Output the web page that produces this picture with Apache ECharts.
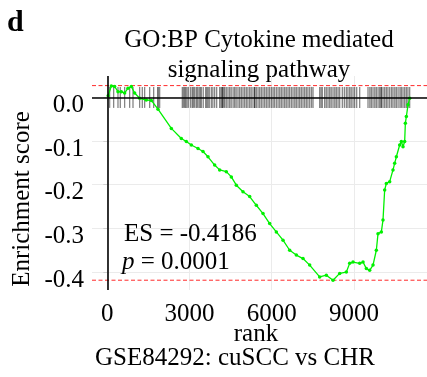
<!DOCTYPE html>
<html>
<head>
<meta charset="utf-8">
<script src="https://cdn.jsdelivr.net/npm/echarts@6/dist/echarts.min.js"></script>
<style>
  html, body { margin: 0; padding: 0; background: #fff; }
  #main { width: 427px; height: 377px; }
</style>
</head>
<body>
<div id="main"></div>
<script>
// running enrichment score
var rankPts = [30, 145, 266, 388, 510, 631, 753, 875, 996, 1179, 1422, 1605, 1848, 2335, 2700, 2882,
  3065, 3308, 3491, 3673, 3916, 4099, 4342, 4525, 4707, 4951, 5194, 5437, 5681, 5924, 6167, 6411,
  6654, 6897, 7141, 7384, 7749, 7992, 8236, 8479, 8722, 8844, 8966, 9209, 9331, 9452, 9574, 9696,
  9817, 9878, 10000, 10060, 10121, 10182, 10304, 10425, 10486, 10547, 10669, 10730, 10790, 10851,
  10876, 10912, 10973, 11034];
var esPts = [0.004, 0.026, 0.025, 0.013, 0.013, 0.010, 0.021, 0.025, 0.010, -0.002, -0.006, -0.007,
  -0.027, -0.071, -0.094, -0.101, -0.109, -0.117, -0.124, -0.136, -0.155, -0.166, -0.170, -0.182,
  -0.201, -0.216, -0.227, -0.247, -0.266, -0.289, -0.308, -0.327, -0.350, -0.361, -0.369, -0.384,
  -0.411, -0.407, -0.4186, -0.403, -0.400, -0.380, -0.377, -0.380, -0.377, -0.392, -0.396, -0.384,
  -0.350, -0.312, -0.308, -0.281, -0.212, -0.197, -0.193, -0.166, -0.151, -0.136, -0.109, -0.101,
  -0.113, -0.101, -0.059, -0.044, -0.017, -0.002];

// positions of the gene set members in the ranked list
var hitRanks = [84, 230, 388, 473, 631, 814, 936, 1179, 1276, 1361, 1544, 1690, 1848, 1848, 1909,
  2736, 2780, 2821, 2860, 2907, 2960, 3040, 3101, 3140, 3186, 3247, 3290, 3345, 3390, 3430, 3500,
  3588, 3630, 3673, 3720, 3795, 3850, 3916, 3990, 4099, 4150, 4196, 4196, 4240, 4281, 4340, 4403,
  4464, 4520, 4590, 4646, 4700, 4768, 4829, 4890, 4951, 5010, 5072, 5130, 5194, 5250, 5316, 5376,
  5376, 5437, 5500, 5559, 5620, 5681, 5740, 5802, 5863, 5920, 5985, 6046, 6100, 6167, 6230, 6290,
  6350, 6410, 6471, 6530, 6593, 6650, 6715, 6776, 6840, 6897, 6960, 7019, 7080, 7141, 7200, 7262,
  7320, 7384, 7450, 7506, 7749, 7800, 7846, 7931, 7990, 8053, 8114, 8170, 8236, 8300, 8357, 8420,
  8479, 8576, 8650, 8722, 8780, 8844, 8900, 8966, 9026, 9100, 9209, 9513, 9580, 9635, 9696, 9760,
  9817, 9880, 9939, 9990, 10000, 10060, 10121, 10182, 10240, 10304, 10370, 10425, 10490, 10547,
  10610, 10680, 10730, 10790, 10851, 10912, 10970, 11034];

var xTicks = [0, 3000, 6000, 9000];
var yTicks = [-0.4, -0.3, -0.2, -0.1, 0];
var esMax = 0.027, esMin = -0.4186;
var xMin = -560, xMax = 11666;

var hitTop = 0.024, hitBottom = -0.024;
var serif = "'Liberation Serif', 'DejaVu Serif', serif";

var myChart = echarts.init(document.getElementById('main'));

var curve = [];
for (var i = 0; i < rankPts.length; i++) curve.push([rankPts[i], esPts[i]]);

var redDash = { color: '#ff2a2a', width: 1, type: [4, 2.5] };

var option = {
    animation: false,
    backgroundColor: '#fff',
    grid: { left: 92, right: 0, top: 76, bottom: 87 },
    xAxis: {
        type: 'value', min: xMin, max: xMax,
        axisLine: { show: false },
        axisTick: { show: true, customValues: xTicks, length: 3, lineStyle: { color: '#cfcfcf' } },
        axisLabel: { customValues: xTicks, margin: 12, fontFamily: serif, fontSize: 25, color: '#000',
            formatter: function (v) { return String(v); } },
        splitLine: { show: true, lineStyle: { color: '#ebebeb', width: 1 } }
    },
    yAxis: {
        type: 'value', min: -0.441, max: 0.049,
        axisLine: { show: false },
        axisTick: { show: true, customValues: yTicks, length: 4, lineStyle: { color: '#cfcfcf' } },
        axisLabel: {
            customValues: yTicks, margin: 8, fontFamily: serif, fontSize: 25, color: '#000',
            verticalAlign: 'top', lineHeight: 16,
            formatter: function (v) { return v.toFixed(1); }
        },
        splitLine: { show: true, lineStyle: { color: '#ebebeb', width: 1 } }
    },
    graphic: [
        { type: 'text', left: 7, top: 8, style: { text: 'd', font: 'bold 30px ' + serif, fill: '#000' } },
        { type: 'text', x: 259, y: 40, style: { text: 'GO:BP Cytokine mediated', font: '25px ' + serif, fill: '#000', textAlign: 'center', textVerticalAlign: 'middle' } },
        { type: 'text', x: 259, y: 70, style: { text: 'signaling pathway', font: '25px ' + serif, fill: '#000', textAlign: 'center', textVerticalAlign: 'middle' } },
        { type: 'text', x: 22, y: 199, rotation: Math.PI / 2, style: { text: 'Enrichment score', font: '25px ' + serif, fill: '#000', textAlign: 'center', textVerticalAlign: 'middle' } },
        { type: 'text', x: 256, y: 334, style: { text: 'rank', font: '25px ' + serif, fill: '#000', textAlign: 'center', textVerticalAlign: 'middle' } },
        { type: 'text', x: 235, y: 358, style: { text: 'GSE84292: cuSCC vs CHR', font: '25px ' + serif, fill: '#000', textAlign: 'center', textVerticalAlign: 'middle' } },
        { type: 'text', x: 124, y: 234, z: 10, style: { text: 'ES = -0.4186', font: '25px ' + serif, fill: '#000', textVerticalAlign: 'middle' } },
        { type: 'text', x: 122, y: 262, z: 10, style: { text: '{i|p} = 0.0001', font: '25px ' + serif, fill: '#000', textVerticalAlign: 'middle',
            rich: { i: { fontStyle: 'italic', fontFamily: serif, fontSize: 25 } } } }
    ],
    series: [
        {
            type: 'custom', z: 2, silent: true,
            data: hitRanks.map(function (r) { return [r]; }),
            renderItem: function (params, api) {
                var a = api.coord([api.value(0), hitTop]);
                var b = api.coord([api.value(0), hitBottom]);
                return { type: 'line', shape: { x1: a[0], y1: a[1], x2: b[0], y2: b[1] },
                    style: { stroke: 'rgba(0,0,0,0.48)', lineWidth: 1.3 } };
            }
        },
        {
            type: 'line', z: 3, data: [], silent: true,
            markLine: {
                symbol: 'none', silent: true, label: { show: false }, animation: false,
                lineStyle: { color: '#000', width: 1.6, type: 'solid' },
                data: [ { yAxis: 0 }, { xAxis: 0 } ]
            }
        },
        {
            type: 'line', z: 3, silent: true, showSymbol: false,
            data: [[xMin, esMax], [xMax, esMax]],
            lineStyle: redDash, itemStyle: { color: '#ff2a2a' }
        },
        {
            type: 'line', z: 3, silent: true, showSymbol: false,
            data: [[xMin, esMin], [xMax, esMin]],
            lineStyle: redDash, itemStyle: { color: '#ff2a2a' }
        },
        {
            type: 'line', z: 4, data: curve,
            showSymbol: true, symbol: 'circle', symbolSize: 3.5,
            itemStyle: { color: '#00f000' },
            lineStyle: { color: '#00f000', width: 1.3 }
        }
    ]
};

myChart.setOption(option);
</script>
</body>
</html>
